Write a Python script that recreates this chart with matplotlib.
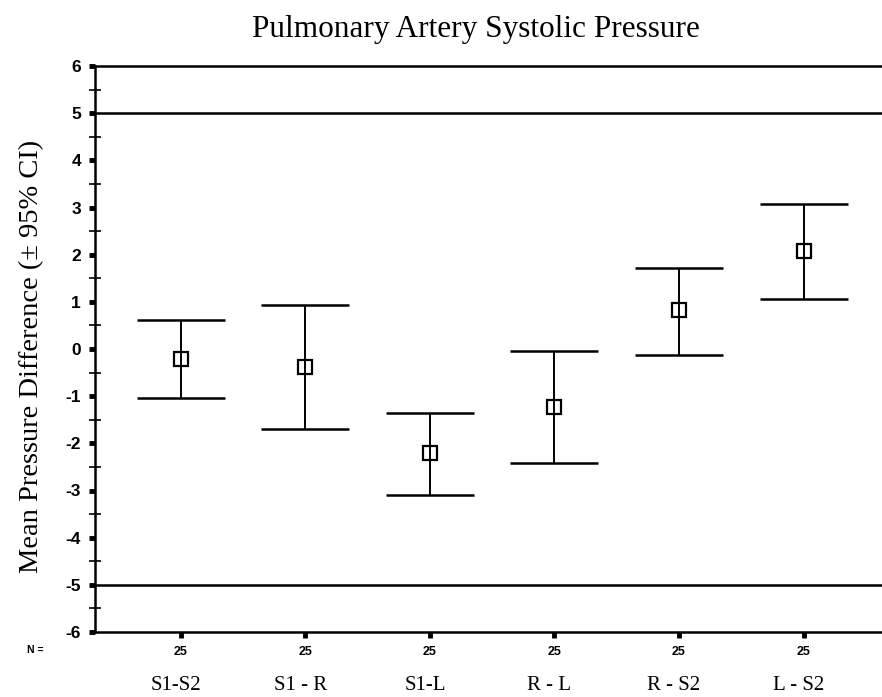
import matplotlib
matplotlib.use("Agg")
import matplotlib.pyplot as plt
from matplotlib.ticker import MultipleLocator

plt.rcParams["axes.unicode_minus"] = False

categories = ["S1-S2", "S1 - R", "S1-L", "R - L", "R - S2", "L - S2"]
n_labels = ["25", "25", "25", "25", "25", "25"]
means = [-0.21, -0.39, -2.21, -1.22, 0.82, 2.08]
upper = [0.62, 0.93, -1.36, -0.05, 1.72, 3.08]
lower = [-1.04, -1.69, -3.09, -2.41, -0.12, 1.06]
limits_of_agreement = [5, -5]
title = "Pulmonary Artery Systolic Pressure"
ylabel = "Mean Pressure Difference (\u00b1 95% CI)"

W, H = 882, 697
fig = plt.figure(figsize=(W / 100, H / 100), dpi=100)
ax = fig.add_axes([95 / W, 1 - 632 / H, (882 - 95) / W + 0.01, (632 - 66) / H])

x = list(range(1, len(categories) + 1))
err_lo = [m - l for m, l in zip(means, lower)]
err_hi = [u - m for m, u in zip(means, upper)]

ax.errorbar(x, means, yerr=[err_lo, err_hi], fmt="none", ecolor="black",
            elinewidth=1.4, capsize=32, capthick=1.8, zorder=3)
ax.plot(x, means, linestyle="none", marker="s", markersize=10,
        markerfacecolor="none", markeredgecolor="black", markeredgewidth=1.6,
        zorder=2)

for v in limits_of_agreement:
    ax.axhline(v, color="black", linewidth=1.8)

ax.set_ylim(-6, 6)
ax.set_xlim(0.312, 6.70)
ax.spines["right"].set_visible(False)
for s in ["left", "bottom", "top"]:
    ax.spines[s].set_linewidth(1.8)

ax.yaxis.set_major_locator(MultipleLocator(1))
ax.yaxis.set_minor_locator(MultipleLocator(0.5))
ax.tick_params(axis="y", which="major", direction="out", length=4, width=3.5,
               labelsize=12.5, pad=6)
ax.tick_params(axis="y", which="minor", direction="inout", length=8, width=1.2)
for lbl in ax.get_yticklabels():
    lbl.set_fontfamily("Liberation Sans")
    lbl.set_fontweight("bold")

ax.set_xticks(x)
ax.set_xticklabels(n_labels, fontsize=9, fontfamily="Liberation Sans",
                   fontweight="bold")
ax.tick_params(axis="x", which="major", direction="out", length=4, width=3.5,
               pad=6)

for xi, c in zip(x, categories):
    ax.text(xi - 0.04, -0.095, c, transform=ax.get_xaxis_transform(), ha="center",
            va="center", fontsize=15, fontfamily="Liberation Serif")

fig.text(35 / W, 1 - 650 / H, "N =", ha="center", va="center", fontsize=7.5,
         fontfamily="Liberation Sans", fontweight="bold")

fig.text(476 / W, 1 - 30 / H, title, ha="center", va="center", fontsize=22.5,
         fontfamily="Liberation Serif")
fig.text(32 / W, 1 - 356 / H, ylabel, ha="center", va="center", rotation=90,
         fontsize=20.5, fontfamily="Liberation Serif")

fig.savefig("out.png", dpi=100)
